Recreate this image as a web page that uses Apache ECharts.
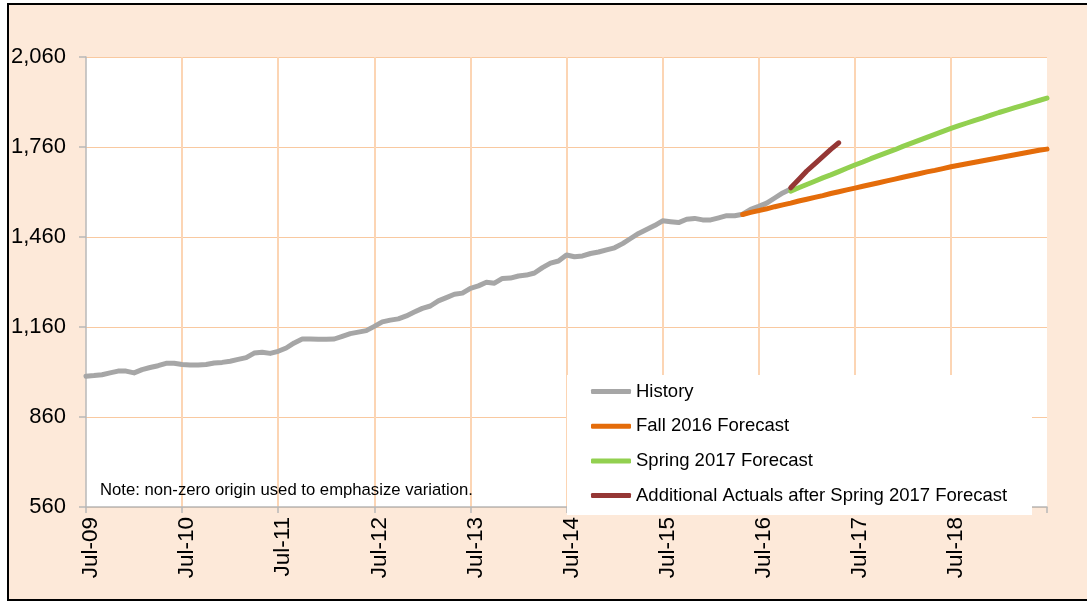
<!DOCTYPE html>
<html>
<head>
<meta charset="utf-8">
<script src="https://cdn.jsdelivr.net/npm/echarts@6/dist/echarts.min.js"></script>
<style>
  html, body { margin: 0; padding: 0; background: #fff; overflow: hidden; }
  #chart { position: absolute; left: 7px; top: 3px; width: 1090px; height: 594px; border: 2px solid #000; background: #FDE9D9; }
</style>
</head>
<body>
<div id="chart"></div>
<script>
// month labels Jul-09 .. Jul-19
const monthNames = ['Jan', 'Feb', 'Mar', 'Apr', 'May', 'Jun', 'Jul', 'Aug', 'Sep', 'Oct', 'Nov', 'Dec'];
const categories = [];
for (let i = 0; i < 121; i++) {
    const m = (6 + i) % 12;
    const y = 9 + Math.floor((6 + i) / 12);
    categories.push(monthNames[m] + '-' + String(y).padStart(2, '0'));
}

// History, Jul-09 .. Nov-16
const history = [
    996, 998, 1001, 1007, 1013, 1013, 1007, 1018, 1025, 1031, 1039, 1039,
    1035, 1033, 1033, 1035, 1040, 1042, 1046, 1052, 1058, 1073, 1076, 1072,
    1079, 1090, 1107, 1120, 1120, 1119, 1119, 1120, 1129, 1138, 1143, 1148,
    1162, 1177, 1183, 1187, 1197, 1210, 1222, 1230, 1247, 1258, 1269, 1273,
    1289, 1297, 1309, 1306, 1322, 1323, 1330, 1333, 1340, 1358, 1373, 1380,
    1400, 1394, 1397, 1405, 1410, 1417, 1424, 1438, 1455, 1472, 1485, 1498,
    1514, 1511, 1508, 1519, 1522, 1517, 1517, 1524, 1531, 1531, 1536, 1552,
    1562, 1573, 1590, 1607, 1620
];
const historyStart = 0;

// Fall 2016 Forecast, May-16 .. Jul-19
const fall2016 = [
    1535, 1542, 1548, 1554, 1561, 1567, 1573, 1580, 1586, 1592, 1598, 1605,
    1611, 1617, 1623, 1629, 1635, 1641, 1647, 1653, 1659, 1665, 1671, 1677,
    1682, 1688, 1694, 1699, 1704, 1709, 1714, 1719, 1724, 1729, 1734, 1739,
    1744, 1749, 1753
];
const fallStart = 82;

// Spring 2017 Forecast, Nov-16 .. Jul-19
const spring2017 = [
    1613, 1624, 1635, 1646, 1657, 1667, 1678, 1689, 1700, 1710, 1721, 1731,
    1741, 1751, 1762, 1772, 1782, 1792, 1802, 1812, 1822, 1831, 1840, 1849,
    1857, 1866, 1875, 1883, 1891, 1899, 1907, 1915, 1923
];
const springStart = 88;

// Additional actuals, Nov-16 .. May-17
const actuals = [1624, 1652, 1680, 1704, 1728, 1752, 1774];
const actualsStart = 88;

const yTicks = [560, 860, 1160, 1460, 1760, 2060];

const FONT = '"Liberation Sans", Arial, sans-serif';

// 补齐到整条类目轴
const pad = (arr, start) => {
    const out = new Array(categories.length).fill(null);
    arr.forEach((v, i) => { out[start + i] = v; });
    return out;
};

const isYear = (i) => i % 12 === 0;

const lineSeries = (name, color, data) => ({
    name: name,
    type: 'line',
    data: data,
    symbol: 'none',
    smooth: false,
    color: color,
    lineStyle: { width: 5, color: color, cap: 'round', join: 'round' },
    emphasis: { disabled: true },
    animation: false
});

const chart = echarts.init(document.getElementById('chart'), null, { renderer: 'canvas' });

const option = {
    animation: false,
    grid: {
        left: 77, top: 52, width: 961, height: 450,
        show: true, backgroundColor: '#fff', borderWidth: 0,
        outerBoundsMode: 'none'
    },
    xAxis: {
        type: 'category',
        data: categories,
        boundaryGap: false,
        axisLine: { show: true, lineStyle: { color: '#B8B8B8', width: 1.5 } },
        axisTick: { show: true, interval: (i) => isYear(i), length: 6, lineStyle: { color: '#B8B8B8', width: 1.5 } },
        axisLabel: {
            interval: (i) => isYear(i) && i < 120,
            rotate: 90, margin: 10,
            verticalAlign: 'top', lineHeight: 10,
            fontSize: 22.5, fontFamily: FONT, color: '#000'
        },
        splitLine: { show: true, interval: (i) => isYear(i) && i > 0 && i < 120, lineStyle: { color: '#FCD5B4', width: 2 } }
    },
    yAxis: {
        type: 'value',
        min: yTicks[0], max: yTicks[yTicks.length - 1], interval: 300,
        axisLine: { show: true, lineStyle: { color: '#B8B8B8', width: 1.5 } },
        axisTick: { show: true, length: 7, lineStyle: { color: '#B8B8B8', width: 1.5 } },
        axisLabel: {
            margin: 20, fontSize: 22, fontFamily: FONT, color: '#000',
            formatter: (v) => v.toLocaleString('en-US')
        },
        splitLine: { show: true, lineStyle: { color: '#F9C9A0', width: 1 } }
    },
    legend: {
        orient: 'vertical',
        left: 582, top: 376,
        padding: 0,
        itemWidth: 40, itemHeight: 5, itemGap: 13.7,
        icon: 'roundRect',
        textStyle: { fontSize: 18.5, fontFamily: FONT, color: '#000', lineHeight: 21 },
        data: ['History', 'Fall 2016 Forecast', 'Spring 2017 Forecast', 'Additional Actuals after Spring 2017 Forecast']
    },
    graphic: [
        { type: 'rect', z: 3, shape: { x: 558, y: 370, width: 465, height: 140 }, style: { fill: '#fff' } },
        {
            type: 'text', z: 3, left: 91, top: 477,
            style: { text: 'Note: non-zero origin used to emphasize variation.', font: '16.7px ' + FONT, fill: '#000' }
        }
    ],
    series: [
        lineSeries('History', '#A6A6A6', pad(history, historyStart)),
        lineSeries('Fall 2016 Forecast', '#E46C0A', pad(fall2016, fallStart)),
        lineSeries('Spring 2017 Forecast', '#92D050', pad(spring2017, springStart)),
        lineSeries('Additional Actuals after Spring 2017 Forecast', '#953735', pad(actuals, actualsStart))
    ]
};

chart.setOption(option);
</script>
</body>
</html>
